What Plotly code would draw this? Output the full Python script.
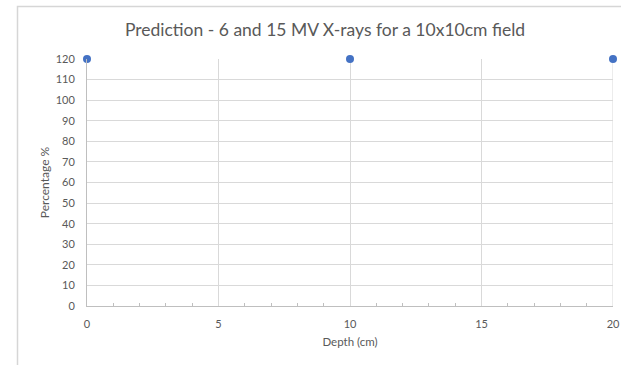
import plotly.graph_objects as go

depth = [0, 10, 20]
percentage = [120, 120, 120]

title_text = "Prediction - 6 and 15 MV X-rays for a 10x10cm field"
x_title = "Depth (cm)"
y_title = "Percentage %"

W, H = 621, 365
L, R, T, B = 87, 8, 59, 59
pw = W - L - R
ph = H - T - B

fig = go.Figure()
fig.add_trace(go.Scatter(
    x=depth, y=percentage, mode="markers",
    marker=dict(color="#4472C4", size=8),
    cliponaxis=False, showlegend=False,
))

font_family = "Lato, Open Sans, sans-serif"
txt = "#595959"

fig.update_layout(
    width=W, height=H,
    margin=dict(l=L, r=R, t=T, b=B, autoexpand=False),
    paper_bgcolor="white", plot_bgcolor="white",
    font=dict(family=font_family, color=txt, size=11),
    title=dict(text=title_text, x=(325 - L) / pw, xref="paper", xanchor="center",
               y=1 - 30 / H, yanchor="middle",
               font=dict(size=17.5, color=txt, family=font_family)),
    xaxis=dict(
        range=[0, 20], dtick=5, tick0=0,
        showgrid=True, gridcolor="#d9d9d9", gridwidth=1,
        showline=True, linecolor="#bfbfbf", linewidth=1,
        ticks="", zeroline=False, automargin=False,
        ticklabelstandoff=8,
        minor=dict(dtick=1, ticks="inside", ticklen=3, tickcolor="#bfbfbf", showgrid=False),
        tickfont=dict(size=11, color=txt),
        title=dict(text=x_title, font=dict(size=11.5, color=txt), standoff=8),
    ),
    yaxis=dict(
        range=[0, 120], dtick=10, tick0=0,
        showgrid=True, gridcolor="#d9d9d9", gridwidth=1,
        showline=True, linecolor="#bfbfbf", linewidth=1,
        ticks="", zeroline=False, automargin=False,
        ticklabelstandoff=9,
        tickfont=dict(size=11, color=txt),
        title=dict(text=y_title, font=dict(size=12, color=txt), standoff=3),
    ),
)

# right-hand vertical gridline at x=20
fig.add_shape(type="line", xref="x", yref="y", x0=20, x1=20, y0=0, y1=120,
              line=dict(color="#d9d9d9", width=1), layer="below")

# chart area border
fig.add_shape(type="rect", xref="paper", yref="paper",
              x0=(17.5 - L) / pw, x1=(W + 10 - L) / pw,
              y0=-(H + 10 - (H - B)) / ph, y1=(H - B - 6.5) / ph,
              line=dict(color="#d6d6d6", width=1.5), fillcolor="rgba(0,0,0,0)", layer="above")

fig.write_html("out.html")
